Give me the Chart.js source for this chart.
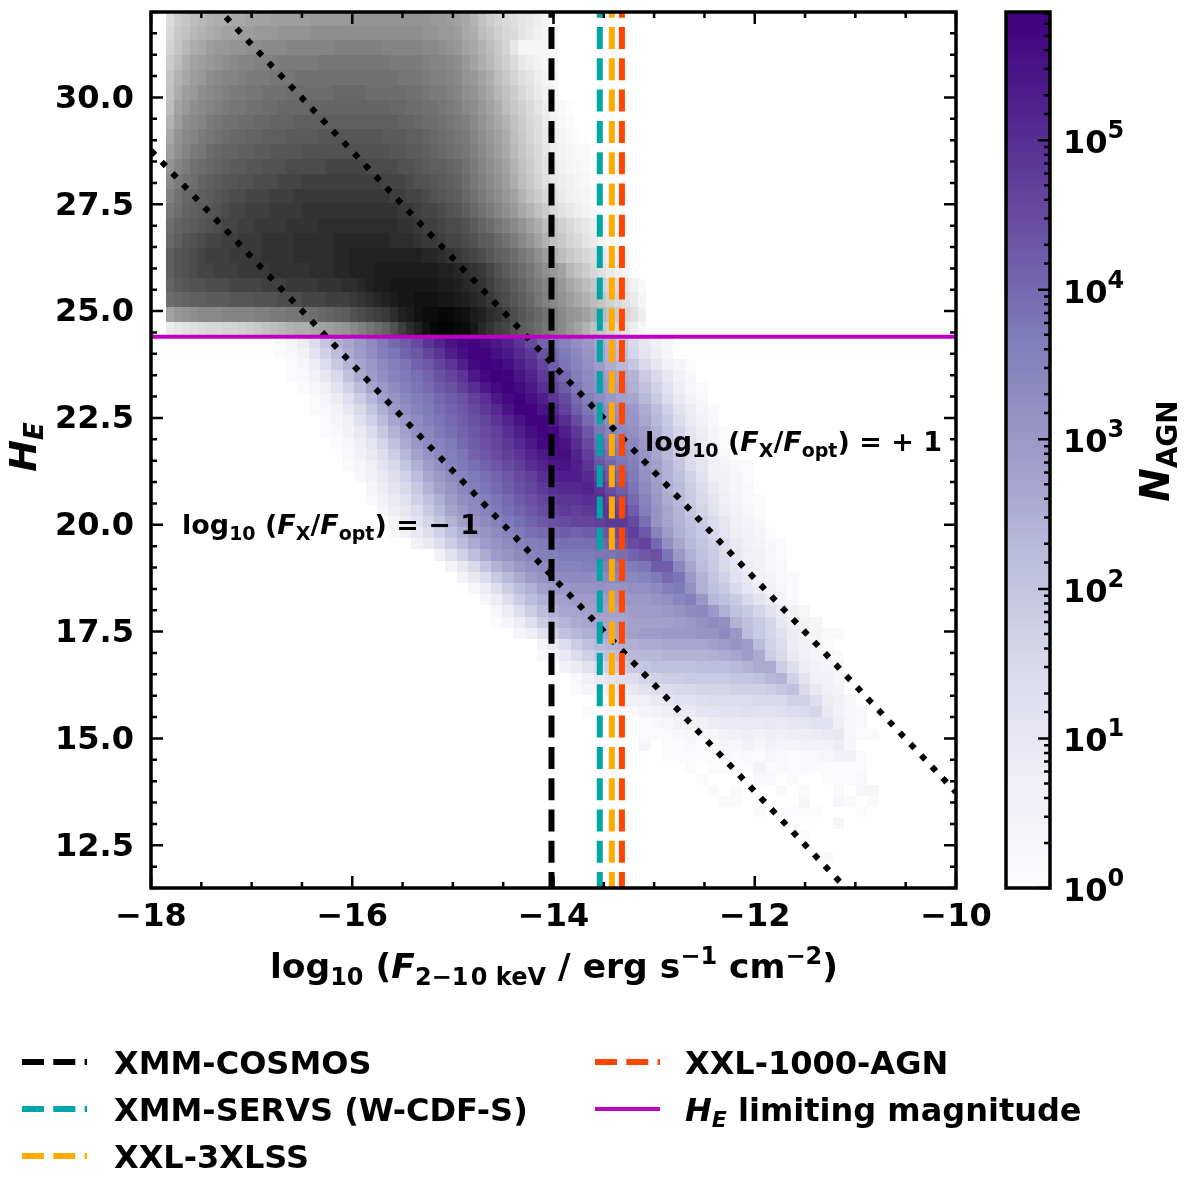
<!DOCTYPE html>
<html>
<head>
<meta charset="utf-8">
<title>AGN counts</title>
<script src="https://cdn.jsdelivr.net/npm/chart.js@4"></script>
<style>
html, body { margin: 0; padding: 0; background: #fff; }
#main { position: absolute; left: 0; top: 0; }
#cbar { position: absolute; left: 1000px; top: 0; }
</style>
</head>
<body>
<canvas id="main" width="1200" height="1179"></canvas>
<canvas id="cbar" width="200" height="1179"></canvas>
<script>
// all cell values are 10*log10(N), 0 = empty
const xRange = [-18, -10];
const yRange = [11.5, 32];
const vMax = 720000;

// grey histogram (fainter than the H_E limit), rows run top to bottom
const greyX0 = -17.85, greyDx = 0.0795;
const greyY0 = 32.03, greyDy = 0.347;
const greyRows = [
[14,18,20,22,23,24,25,25,26,26,27,27,27,28,28,28,28,28,29,29,29,29,29,30,30,30,30,30,30,30,30,30,30,29,29,28,27,26,24,21,18,16,14,13,11,10,8,5,1],
[15,19,21,23,24,25,26,27,27,28,28,29,29,29,30,30,30,30,31,31,31,31,31,31,31,31,31,31,31,31,31,31,30,30,29,29,28,26,25,22,20,17,15,14,11,9,7,5,3],
[16,20,23,25,26,28,29,29,30,30,31,31,32,32,32,33,33,33,33,33,33,34,34,34,34,34,34,33,33,33,33,33,32,32,31,30,29,27,26,24,22,19,16,10,5,5,5,5,3],
[18,22,25,27,28,29,30,31,32,33,33,34,34,34,35,35,35,35,35,36,36,36,36,36,36,36,36,36,35,35,35,35,34,33,33,32,31,29,27,25,23,20,17,14,10,8,6,5,3],
[20,24,26,28,29,31,32,33,33,34,35,35,35,36,36,36,37,37,37,37,37,37,37,37,37,37,37,37,37,36,36,36,35,34,34,33,32,30,29,27,25,22,19,16,13,11,8,6,4],
[21,25,28,29,31,32,33,34,35,35,36,36,37,37,37,38,38,38,38,38,38,39,39,39,39,38,38,38,38,38,37,37,36,35,35,34,33,31,30,28,26,23,21,18,15,12,9,7,4],
[22,27,29,31,32,33,34,35,36,36,37,37,38,38,39,39,39,39,40,40,40,40,40,40,40,40,40,40,39,39,38,38,37,37,36,35,34,32,31,29,27,25,22,19,17,14,11,8,5,3,1],
[24,28,31,32,33,35,36,37,37,38,38,39,39,40,40,40,41,41,41,41,41,41,41,41,41,41,41,41,41,40,40,39,38,38,37,36,35,34,32,30,28,26,24,21,18,15,13,9,6,4,2],
[26,30,32,33,35,36,37,38,39,39,40,40,41,41,41,42,42,42,42,43,43,43,43,43,43,43,43,42,42,42,41,41,40,39,38,37,36,35,33,31,29,27,25,22,19,16,13,10,7,5,3,2,1],
[28,31,33,35,36,38,39,40,40,41,41,42,42,43,43,43,43,44,44,44,44,44,44,44,44,44,44,44,43,43,42,42,41,40,39,38,37,36,34,32,30,28,26,23,20,17,14,11,8,6,4,3,3,1],
[30,33,35,37,38,39,40,41,42,42,43,43,44,44,44,45,45,45,45,45,46,46,46,46,46,45,45,45,45,44,44,43,42,41,41,40,39,37,35,33,31,29,27,24,21,18,15,12,9,7,5,4,3,1],
[32,35,37,38,40,41,42,43,43,44,44,45,45,45,46,46,46,47,47,47,47,47,47,47,47,47,47,46,46,46,45,44,44,43,42,41,40,38,36,34,32,30,28,25,22,19,16,13,10,8,7,5,4,2],
[34,37,39,40,41,42,43,44,45,45,46,46,46,47,47,47,48,48,48,48,48,48,48,48,48,48,48,48,47,47,46,46,45,44,43,42,41,39,37,35,33,31,29,27,24,21,18,15,12,9,7,6,5,3,1],
[36,38,40,41,42,43,44,45,46,46,47,47,47,48,48,48,48,49,49,49,49,49,49,49,49,49,49,49,49,48,48,47,46,46,45,44,43,41,39,37,35,33,31,29,26,24,21,18,15,12,10,8,6,4,2],
[38,40,41,42,43,44,45,46,46,47,47,48,48,48,48,49,49,49,49,50,50,50,50,50,50,50,50,50,50,49,49,48,47,47,46,45,45,44,42,40,38,36,34,32,30,27,25,22,20,17,15,12,10,8,5,3],
[39,41,43,44,45,46,46,47,47,48,48,48,49,49,49,49,50,50,50,50,50,51,51,51,51,51,51,51,50,50,50,49,48,48,47,46,46,45,44,42,41,39,37,35,32,30,27,24,21,19,16,14,11,9,6,4,2],
[41,43,44,45,46,47,47,47,48,48,48,48,49,49,49,49,50,50,50,50,50,51,51,52,52,52,52,52,52,52,52,52,51,51,50,49,48,47,46,45,43,41,40,38,36,34,31,28,24,22,19,17,15,13,10,8,6,3],
[41,43,44,45,46,46,47,47,47,48,48,48,48,49,49,49,49,49,50,50,50,51,51,52,52,52,53,53,53,53,53,53,53,53,52,52,51,50,49,48,46,44,42,40,38,36,33,31,29,27,23,21,18,15,12,9,7,4,2],
[40,42,43,44,44,45,45,45,46,46,46,46,47,47,47,48,48,48,48,49,49,49,50,50,51,52,53,53,54,54,54,54,54,54,53,53,52,51,50,49,47,45,44,42,40,37,35,33,31,29,26,24,22,20,17,15,13,10,7,3],
[38,39,40,41,41,42,42,42,43,43,43,44,44,44,45,45,45,46,46,46,47,47,47,48,49,50,51,52,53,54,54,55,55,55,54,54,53,52,51,50,48,46,45,43,41,39,36,34,32,30,28,26,24,22,20,17,15,12,9,5],
[27,29,30,31,32,32,32,33,33,33,33,34,34,35,35,36,36,37,38,39,40,41,42,44,45,46,47,48,50,52,53,55,56,56,57,57,56,55,53,52,50,49,47,45,43,41,39,37,34,32,30,29,27,25,23,21,18,15,12,8],
[9,11,12,13,14,15,15,16,16,17,18,19,21,22,23,24,25,25,26,27,28,29,30,32,34,36,38,40,44,47,50,52,55,57,58,58,57,56,54,51,49,47,46,44,42,40,38,36,34,32,29,27,24,21,19,17,14,11,8,4]
];

// purple histogram, each row starts at column purpleStart[i]
const purpleX0 = -17.0, purpleDx = 0.1133;
const purpleY0 = 24.4, purpleDy = 0.262;
const purpleStart = [2,2,3,3,4,5,5,6,6,7,8,8,9,10,10,11,12,12,14,16,17,18,19,20,21,21,23,25,25,26,28,28,30,29,34,34,34,36,38,39,40,41,44,51,48,50,50];
const purpleRows = [
[1,3,8,14,20,25,27,30,33,37,40,42,45,49,52,55,57,58,56,54,52,49,45,41,38,35,32,30,27,24,20,15,10,6,2],
[1,2,5,11,17,22,26,29,32,36,38,41,43,46,49,53,56,58,58,56,54,51,48,44,40,37,34,31,28,25,21,16,11,7,3],
[1,3,8,14,19,24,27,30,33,36,38,41,43,46,49,53,57,59,58,56,53,50,46,42,38,35,32,29,26,23,20,15,10,6,3,1],
[1,2,5,10,15,21,26,29,32,35,37,39,41,44,46,49,54,57,59,58,55,52,48,44,40,36,33,31,28,26,24,19,15,10,5,2],
[1,3,7,12,17,22,27,30,33,36,38,40,42,44,47,50,54,57,59,57,54,50,46,42,38,34,32,29,27,25,21,17,12,7,3,1],
[1,4,8,13,18,23,28,31,34,36,38,40,42,44,47,50,54,57,59,56,53,49,45,40,36,33,30,28,27,23,19,14,9,5,2],
[1,2,5,10,15,20,25,29,32,35,37,39,41,43,45,48,51,55,58,58,55,51,47,42,38,34,32,31,30,26,22,17,12,8,3,1],
[1,3,7,12,17,22,27,30,33,36,38,40,42,44,46,49,52,55,58,58,54,50,45,40,36,33,32,31,27,23,19,14,9,5,2],
[1,2,5,9,14,19,24,28,32,34,37,39,41,43,45,47,50,53,56,58,57,53,48,43,38,35,33,32,29,25,20,16,11,7,3,1],
[1,3,7,11,16,21,26,30,33,35,37,40,42,44,46,48,51,54,57,57,55,50,45,40,37,35,34,30,26,21,17,12,8,3,1],
[2,5,9,13,18,23,28,31,34,36,38,41,43,45,47,49,52,54,56,56,52,47,42,39,37,35,31,27,23,18,14,9,5,2],
[1,3,7,11,15,20,25,29,32,35,37,39,41,43,45,47,50,52,54,55,53,49,44,41,38,36,31,28,24,20,15,11,6,4,2,1],
[2,5,9,13,17,22,27,30,33,35,37,39,41,43,45,47,50,52,53,53,51,47,43,40,37,32,28,25,21,17,12,7,5,3,1],
[3,7,11,15,19,24,28,31,34,36,38,40,42,44,46,48,50,51,51,52,49,45,42,38,33,29,25,22,18,14,9,6,3,2],
[2,5,9,12,17,21,25,29,32,34,36,38,40,42,44,46,48,49,49,50,50,47,44,40,35,30,26,23,19,15,11,7,4,2,1],
[3,7,10,14,19,23,27,30,33,35,37,39,41,43,45,46,48,47,48,49,49,46,42,36,31,27,24,20,16,12,8,5,3,1],
[4,8,12,16,20,24,28,31,33,35,37,39,41,43,44,45,46,46,47,48,48,45,39,31,27,24,21,18,14,10,6,4,2],
[2,5,9,13,17,21,25,29,31,33,35,37,39,40,41,42,41,42,43,44,45,47,43,35,29,25,22,19,15,11,7,5,3,1],
[5,9,13,18,22,26,29,31,33,35,36,37,38,39,39,39,40,41,43,45,46,40,32,27,23,20,17,13,9,6,4,2,1],
[6,12,17,22,26,29,31,33,35,36,36,37,37,37,38,38,39,41,43,44,38,30,25,21,18,14,10,7,5,3,1],
[4,10,15,20,24,27,30,32,33,34,35,35,36,36,36,36,37,38,42,42,34,27,22,19,15,11,8,5,3,2],
[4,9,14,19,23,26,29,31,32,33,33,33,33,34,34,34,35,37,40,38,30,24,20,17,12,9,6,4,2,1],
[3,8,13,18,22,25,28,30,30,31,31,31,31,31,32,32,33,36,37,32,25,21,19,15,11,8,5,3,1],
[3,8,13,18,22,25,27,28,29,29,29,29,30,30,30,31,32,34,36,30,23,21,19,15,11,8,4,1],
[3,8,13,18,22,25,27,27,28,28,28,28,29,29,29,30,31,33,34,30,25,21,19,16,12,8,6,3],
[1,4,8,13,18,22,24,26,27,27,27,27,28,28,28,28,29,30,32,33,32,24,21,19,16,10,7,5,3],
[3,7,12,17,21,23,25,26,27,27,28,29,29,30,30,30,31,31,33,30,22,19,16,12,8,6,4,2,1],
[4,9,14,18,21,23,24,25,25,26,26,27,27,27,27,28,29,31,29,22,17,14,8,6,4,1],
[2,4,9,14,17,20,21,22,23,23,23,24,24,24,24,25,26,27,29,26,18,15,9,6,4,3,1],
[1,5,8,12,15,17,18,19,20,21,21,21,21,22,22,22,23,24,26,26,18,13,8,5,4,3],
[2,6,9,11,13,14,16,17,18,18,19,19,19,19,20,20,21,23,24,17,11,6,5,3],
[1,3,4,6,8,10,12,13,14,15,15,16,16,16,17,17,17,18,20,21,15,9,6,4],
[1,2,3,5,7,9,10,12,12,13,14,14,14,14,15,15,15,17,17,13,8,6,3],
[1,0,1,1,2,4,5,7,9,9,11,11,12,12,13,12,12,13,14,15,16,9,5,3,2],
[1,2,3,5,6,6,8,9,9,9,9,10,9,10,11,12,12,7,3,2],
[1,1,1,2,3,2,3,5,6,7,5,7,6,7,7,8,9,10,3,1,1],
[3,0,1,1,2,1,2,3,3,5,3,5,4,4,5,5,5,8,2],
[1,1,1,1,1,2,1,2,1,3,2,1,2,2,3,5,5,1],
[1,0,1,1,1,1,4,1,2,1,2,1,1,1,1,1],
[1,0,0,0,0,2,2,0,1,0,0,1,1,1,2],
[1,0,1,0,0,0,2,0,1,0,0,2,0,3,3],
[1,1,0,0,0,0,0,3,0,0,3,1,0,1],
[1,0,1,1,1,1,0,0,0,1],
[3],
[1],
[0],
[1]
];

// survey flux limits and the H_E limit
const surveyNames = ['XMM-COSMOS', 'XMM-SERVS (W-CDF-S)', 'XXL-3XLSS', 'XXL-1000-AGN'];
const surveyLimits = [-14.02, -13.54, -13.42, -13.32];
const surveyColors = ['#000000', '#00a6a6', '#ffab00', '#ff4500'];
const heLimit = 24.4;
// F_X/F_opt = +1 and -1 lines at the two edges of the x range
const ratioPlus = [33.74, 13.74];
const ratioMinus = [28.76, 8.76];

const purples = [[252,251,253],[239,237,245],[218,218,235],[188,189,220],[158,154,200],[128,125,186],[106,81,163],[84,39,143],[63,0,125]];
const greys = [[255,255,255],[240,240,240],[217,217,217],[189,189,189],[150,150,150],[115,115,115],[82,82,82],[37,37,37],[0,0,0]];

const FONT = '"DejaVu Sans"';
const TOP = 12, BOTTOM = 888, LEFT = 151, RIGHT = 956;

function cmap(stops, t) {
    t = Math.min(1, Math.max(0, t)) * (stops.length - 1);
    const i = Math.min(stops.length - 2, Math.floor(t)), f = t - i;
    const c = [0, 1, 2].map(k => Math.round(stops[i][k] + (stops[i + 1][k] - stops[i][k]) * f));
    return 'rgb(' + c.join(',') + ')';
}

// mixed size text on one baseline: [text, size, italic, dy]
function drawRuns(ctx, x, y, runs, align) {
    ctx.save();
    ctx.fillStyle = '#000';
    ctx.textBaseline = 'alphabetic';
    ctx.textAlign = 'left';
    const font = r => (r[2] ? 'italic ' : '') + 'bold ' + r[1] + 'px ' + FONT;
    let w = 0;
    runs.forEach(r => { ctx.font = font(r); w += ctx.measureText(r[0]).width; });
    let px = align === 'center' ? x - w / 2 : x;
    runs.forEach(r => {
        ctx.font = font(r);
        ctx.fillText(r[0], px, y + (r[3] || 0));
        px += ctx.measureText(r[0]).width;
    });
    ctx.restore();
}

function drawGrid(ctx, xs, ys, rows, starts, x0, dx, y0, dy, stops) {
    rows.forEach((row, i) => {
        const yA = Math.round(ys.getPixelForValue(y0 - dy * i));
        const yB = Math.round(ys.getPixelForValue(y0 - dy * (i + 1)));
        row.forEach((v, j) => {
            if (!v) return;
            const c = (starts ? starts[i] : 0) + j;
            const xA = Math.round(xs.getPixelForValue(x0 + dx * c));
            const xB = Math.round(xs.getPixelForValue(x0 + dx * (c + 1)));
            ctx.fillStyle = cmap(stops, v / 58.6);
            ctx.fillRect(xA, yA, xB - xA, yB - yA);
        });
    });
}

const heatmapPlugin = {
    id: 'heatmap',
    beforeDatasetsDraw(chart) {
        const { ctx, chartArea: a, scales } = chart;
        ctx.save();
        ctx.beginPath();
        ctx.rect(a.left, a.top, a.right - a.left, a.bottom - a.top);
        ctx.clip();
        drawGrid(ctx, scales.x, scales.y, greyRows, null, greyX0, greyDx, greyY0, greyDy, greys);
        drawGrid(ctx, scales.x, scales.y, purpleRows, purpleStart, purpleX0, purpleDx, purpleY0, purpleDy, purples);
        ctx.restore();
    }
};

const framePlugin = {
    id: 'frame',
    afterDatasetsDraw(chart) {
        const { ctx, chartArea: a, scales } = chart;
        ctx.save();
        ctx.strokeStyle = '#000';
        ctx.lineWidth = 2.5;
        ctx.beginPath();
        scales.x.ticks.forEach(t => {
            const p = scales.x.getPixelForValue(t.value);
            const len = Number.isInteger(t.value / 2) ? 12 : 6;
            ctx.moveTo(p, a.bottom); ctx.lineTo(p, a.bottom - len);
            ctx.moveTo(p, a.top); ctx.lineTo(p, a.top + len);
        });
        scales.y.ticks.forEach(t => {
            const p = scales.y.getPixelForValue(t.value);
            const len = Number.isInteger((t.value - 12.5) / 2.5) ? 12 : 6;
            ctx.moveTo(a.left, p); ctx.lineTo(a.left + len, p);
            ctx.moveTo(a.right, p); ctx.lineTo(a.right - len, p);
        });
        ctx.stroke();
        ctx.lineWidth = 3.5;
        ctx.strokeRect(a.left, a.top, a.right - a.left, a.bottom - a.top);
        ctx.restore();
    }
};

const textPlugin = {
    id: 'labels',
    afterDraw(chart) {
        const ctx = chart.ctx;
        drawRuns(ctx, 554, 978, [['log', 34.5], ['10', 24, false, 7], [' (', 34.5], ['F', 34.5, true], ['2\u22121\u200a0', 24, false, 7], [' keV', 24, false, 7],
            [' / erg s', 34.5], ['\u22121', 24, false, -14], [' cm', 34.5], ['\u22122', 24, false, -14], [')', 34.5]], 'center');
        ctx.save();
        ctx.translate(36, 447);
        ctx.rotate(-Math.PI / 2);
        drawRuns(ctx, 0, 0, [['H', 38, true], ['E', 26, true, 7]], 'center');
        ctx.restore();

        const ratio = sign => [['log', 27], ['10', 19, false, 6], [' (', 27], ['F', 27, true], ['X', 19, false, 6], ['/', 27], ['F', 27, true],
            ['opt', 19, false, 6], [') = ', 27], [sign + ' 1', 27]];
        drawRuns(ctx, 645, 451, ratio('+'), 'left');
        drawRuns(ctx, 182, 534, ratio('\u2212'), 'left');

        // legend, built from the line datasets
        const rowsY = [1062, 1109, 1156];
        chart.data.datasets.filter(d => d.legendSlot !== undefined).forEach(d => {
            const col = d.legendSlot > 2 ? 1 : 0;
            const y = rowsY[d.legendSlot % 3];
            const x0 = col ? 595 : 22;
            ctx.save();
            ctx.strokeStyle = d.borderColor;
            ctx.lineWidth = d.borderWidth;
            ctx.setLineDash(d.borderDash || []);
            ctx.beginPath();
            ctx.moveTo(x0, y);
            ctx.lineTo(x0 + 65, y);
            ctx.stroke();
            ctx.restore();
            const tx = col ? 685 : 114;
            if (d.legendRuns) drawRuns(ctx, tx, y + 12, d.legendRuns, 'left');
            else drawRuns(ctx, tx, y + 12, [[d.label, 32]], 'left');
        });
    }
};

function fixedAxis(size, horizontal) {
    return scale => {
        if (horizontal) { scale.height = size; scale.paddingLeft = 0; scale.paddingRight = 0; }
        else { scale.width = size; scale.paddingTop = 0; scale.paddingBottom = 0; }
    };
}

const lineSets = [];
lineSets.push({ label: 'ratio +1', data: xRange.map((x, i) => ({ x: x, y: ratioPlus[i] })), borderColor: '#000', borderWidth: 6, borderDash: [6, 9.6], order: 8 });
lineSets.push({ label: 'ratio -1', data: xRange.map((x, i) => ({ x: x, y: ratioMinus[i] })), borderColor: '#000', borderWidth: 6, borderDash: [6, 9.6], order: 7 });
surveyNames.forEach((name, i) => {
    lineSets.push({
        label: name,
        data: [{ x: surveyLimits[i], y: yRange[1] }, { x: surveyLimits[i], y: yRange[0] }],
        borderColor: surveyColors[i], borderWidth: 6, borderDash: [22, 9.3], borderDashOffset: 16.3,
        order: 6 - i, legendSlot: i
    });
});
lineSets.push({
    label: 'H_E limiting magnitude',
    data: xRange.map(x => ({ x: x, y: heLimit })),
    borderColor: '#c000c0', borderWidth: 4, order: 0, legendSlot: 4,
    legendRuns: [['H', 32, true], ['E', 22, true, 6], [' limiting magnitude', 32]]
});

new Chart(document.getElementById('main'), {
    type: 'scatter',
    data: { datasets: lineSets.map(d => Object.assign({ showLine: true, pointRadius: 0, borderCapStyle: 'butt', tension: 0 }, d)) },
    plugins: [heatmapPlugin, framePlugin, textPlugin],
    options: {
        responsive: false,
        animation: false,
        devicePixelRatio: 1,
        layout: { padding: { left: 0, top: TOP, right: 1200 - RIGHT, bottom: 0 } },
        plugins: { legend: { display: false }, tooltip: { enabled: false } },
        scales: {
            x: {
                type: 'linear', min: xRange[0], max: xRange[1],
                grid: { display: false }, border: { display: false },
                afterFit: fixedAxis(1179 - BOTTOM, true),
                ticks: {
                    stepSize: 0.5, autoSkip: false, maxRotation: 0, padding: 2, color: '#000',
                    font: { family: FONT, weight: 'bold', size: 32 },
                    callback: v => Number.isInteger(v / 2) ? '\u2212' + Math.abs(v) : ''
                }
            },
            y: {
                type: 'linear', min: yRange[0], max: yRange[1],
                grid: { display: false }, border: { display: false },
                afterFit: fixedAxis(LEFT, false),
                ticks: {
                    stepSize: 0.5, autoSkip: false, padding: 9, labelOffset: 2, color: '#000',
                    font: { family: FONT, weight: 'bold', size: 32 },
                    callback: v => Number.isInteger((v - 12.5) / 2.5) ? v.toFixed(1) : ''
                }
            }
        }
    }
});

// colourbar: its own chart with a log axis
const cbarExponents = [0, 1, 2, 3, 4, 5];
const cbarPlugin = {
    id: 'cbarDecor',
    afterDatasetsDraw(chart) {
        const { ctx, chartArea: a, scales } = chart;
        const y = scales.y;
        ctx.save();
        ctx.strokeStyle = '#000';
        ctx.lineWidth = 2.5;
        ctx.beginPath();
        y.ticks.forEach(t => {
            const major = Number.isInteger(Math.round(Math.log10(t.value) * 1e6) / 1e6);
            const p = y.getPixelForValue(t.value);
            ctx.moveTo(a.right, p);
            ctx.lineTo(a.right - (major ? 12 : 6), p);
        });
        ctx.stroke();
        ctx.lineWidth = 3.5;
        ctx.strokeRect(a.left, a.top, a.right - a.left, a.bottom - a.top);
        ctx.restore();
        cbarExponents.forEach(e => {
            const p = y.getPixelForValue(Math.pow(10, e));
            drawRuns(ctx, a.right + 13, p + 13, [['10', 32], [String(e), 24, false, -15]], 'left');
        });
        ctx.save();
        ctx.translate(1169 - 1000, 451);
        ctx.rotate(-Math.PI / 2);
        drawRuns(ctx, 0, 0, [['N', 40, true], ['AGN', 28, false, 8]], 'center');
        ctx.restore();
    }
};

new Chart(document.getElementById('cbar'), {
    type: 'bar',
    data: {
        labels: ['N'],
        datasets: [{
            data: [[1, vMax]],
            barPercentage: 1,
            categoryPercentage: 1,
            backgroundColor(c) {
                const a = c.chart.chartArea;
                if (!a) return '#000';
                const g = c.chart.ctx.createLinearGradient(0, a.bottom, 0, a.top);
                purples.forEach((s, i) => g.addColorStop(i / (purples.length - 1), 'rgb(' + s.join(',') + ')'));
                return g;
            }
        }]
    },
    plugins: [cbarPlugin],
    options: {
        responsive: false,
        animation: false,
        devicePixelRatio: 1,
        layout: { padding: { left: 6, top: TOP, right: 0, bottom: 1179 - BOTTOM } },
        plugins: { legend: { display: false }, tooltip: { enabled: false } },
        scales: {
            x: { display: false },
            y: {
                type: 'logarithmic', position: 'right', min: 1, max: vMax,
                grid: { display: false }, border: { display: false },
                afterFit: fixedAxis(150, false),
                ticks: { autoSkip: false, callback: () => '' }
            }
        }
    }
});
</script>
</body>
</html>
